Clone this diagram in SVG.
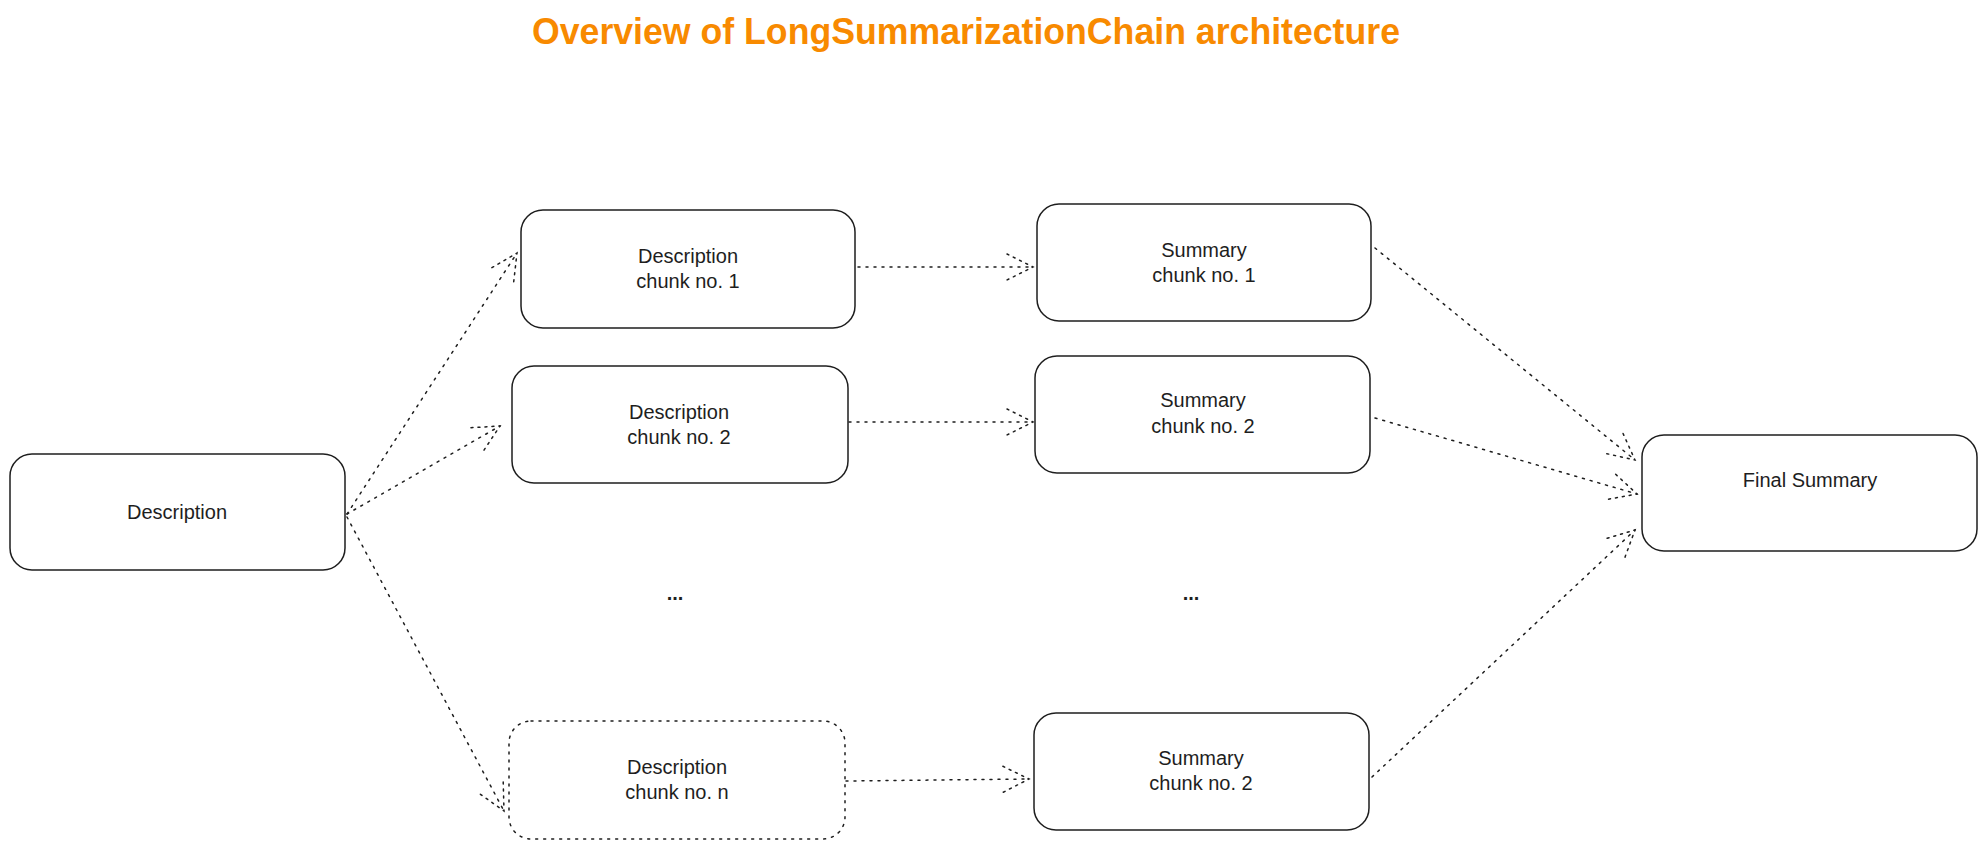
<svg xmlns="http://www.w3.org/2000/svg" width="1987" height="848" viewBox="0 0 1987 848">
<style>
.box{fill:#fff;stroke:#1e1e1e;stroke-width:1.5}
.dot{stroke-dasharray:2 6;stroke-linecap:round}
.lbl{font-family:"Liberation Sans",Arial,sans-serif;font-size:20px;fill:#1e1e1e;text-anchor:middle}
.conn{fill:none;stroke:#1e1e1e;stroke-width:1.5;stroke-dasharray:2 6;stroke-linecap:round}
</style>
<defs>
<marker id="ah" markerUnits="userSpaceOnUse" markerWidth="40" markerHeight="40" viewBox="-30 -20 40 40" refX="0" refY="0" orient="auto" overflow="visible">
<path d="M-26,-13 L0,0 L-26,13" fill="none" stroke="#1e1e1e" stroke-width="1.5" stroke-dasharray="2 5" stroke-linecap="round"/>
</marker>
</defs>
<rect width="1987" height="848" fill="#fff"/>
<text x="966" y="44" font-family="Liberation Sans,Arial,sans-serif" font-size="36" font-weight="bold" fill="#f88a00" text-anchor="middle" textLength="868" lengthAdjust="spacingAndGlyphs">Overview of LongSummarizationChain architecture</text>

<g id="connectors">
<line class="conn" x1="347" y1="514" x2="517" y2="253" marker-end="url(#ah)"/>
<line class="conn" x1="347" y1="514" x2="500" y2="426" marker-end="url(#ah)"/>
<line class="conn" x1="347" y1="517" x2="504" y2="811" marker-end="url(#ah)"/>
<line class="conn" x1="858" y1="267" x2="1033" y2="267" marker-end="url(#ah)"/>
<line class="conn" x1="849" y1="422" x2="1033" y2="422" marker-end="url(#ah)"/>
<line class="conn" x1="846" y1="781" x2="1029" y2="779" marker-end="url(#ah)"/>
<line class="conn" x1="1375" y1="248" x2="1635" y2="460" marker-end="url(#ah)"/>
<line class="conn" x1="1375" y1="418" x2="1637" y2="494" marker-end="url(#ah)"/>
<line class="conn" x1="1372" y1="777" x2="1635" y2="530" marker-end="url(#ah)"/>
</g>

<g id="description">
<rect class="box" x="10" y="454" width="335" height="116" rx="22"/>
<text class="lbl" x="177" y="519">Description</text>
</g>
<g id="desc-chunk-1">
<rect class="box" x="521" y="210" width="334" height="118" rx="22"/>
<text class="lbl" x="688" y="263">Description</text>
<text class="lbl" x="688" y="288">chunk no. 1</text>
</g>
<g id="desc-chunk-2">
<rect class="box" x="512" y="366" width="336" height="117" rx="22"/>
<text class="lbl" x="679" y="419">Description</text>
<text class="lbl" x="679" y="444">chunk no. 2</text>
</g>
<g id="desc-chunk-n">
<rect class="box dot" x="509" y="721" width="336" height="118" rx="22"/>
<text class="lbl" x="677" y="774">Description</text>
<text class="lbl" x="677" y="799">chunk no. n</text>
</g>
<g id="summary-1">
<rect class="box" x="1037" y="204" width="334" height="117" rx="22"/>
<text class="lbl" x="1204" y="257">Summary</text>
<text class="lbl" x="1204" y="282">chunk no. 1</text>
</g>
<g id="summary-2">
<rect class="box" x="1035" y="356" width="335" height="117" rx="22"/>
<text class="lbl" x="1203" y="407">Summary</text>
<text class="lbl" x="1203" y="433">chunk no. 2</text>
</g>
<g id="summary-3">
<rect class="box" x="1034" y="713" width="335" height="117" rx="22"/>
<text class="lbl" x="1201" y="765">Summary</text>
<text class="lbl" x="1201" y="790">chunk no. 2</text>
</g>
<g id="final-summary">
<rect class="box" x="1642" y="435" width="335" height="116" rx="22"/>
<text class="lbl" x="1810" y="487">Final Summary</text>
</g>
<g id="ellipsis-1"><text class="lbl" x="675" y="600" font-weight="bold">...</text></g>
<g id="ellipsis-2"><text class="lbl" x="1191" y="600" font-weight="bold">...</text></g>
</svg>
